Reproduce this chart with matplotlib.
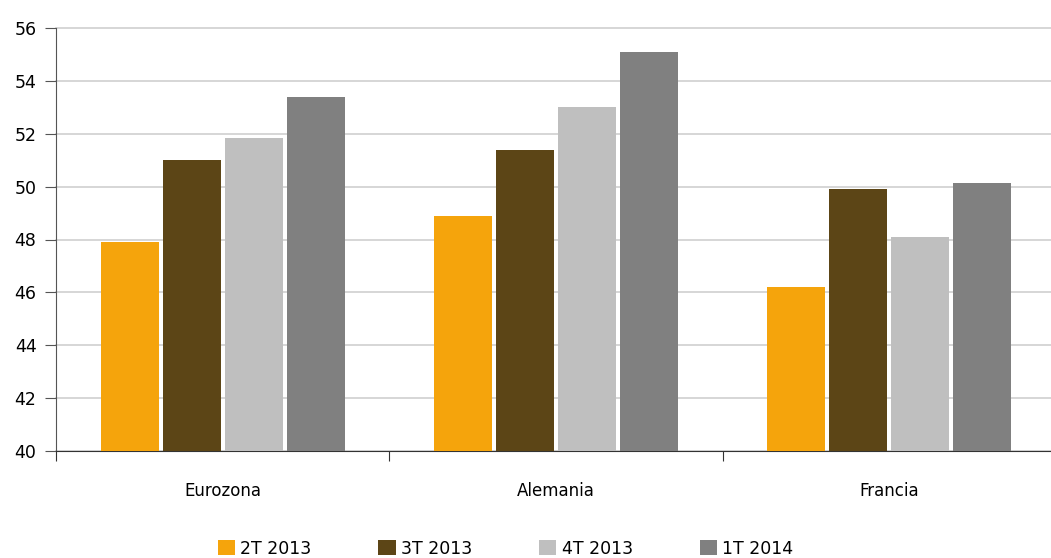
import numpy as np
import matplotlib.pyplot as plt

categories = ['Eurozona', 'Alemania', 'Francia']
series_names = ['2T 2013', '3T 2013', '4T 2013', '1T 2014']
values_2t2013 = [47.9, 48.9, 46.2]
values_3t2013 = [51.0, 51.4, 49.9]
values_4t2013 = [51.85, 53.0, 48.1]
values_1t2014 = [53.4, 55.1, 50.15]
yticks = [40, 42, 44, 46, 48, 50, 52, 54, 56]

series = [values_2t2013, values_3t2013, values_4t2013, values_1t2014]
colors = ['#F5A40C', '#5C4516', '#BFBFBF', '#808080']

fig = plt.figure(figsize=(10.51, 5.58), dpi=100)
ax = fig.add_axes([56 / 1051, 1 - 451 / 558, 1000 / 1051, 423 / 558])

x = np.arange(len(categories))
step = 0.186
width = 0.174
for i, (vals, col, name) in enumerate(zip(series, colors, series_names)):
    ax.bar(x + (i - 1.5) * step, np.array(vals) - 40, bottom=40, width=width,
           color=col, label=name, zorder=3)

ax.set_xlim(-0.5, 2.5)
ax.set_ylim(40, 56)
ax.set_yticks(yticks)
ax.set_yticklabels([str(t) for t in yticks], fontsize=12.5)
ax.tick_params(axis='y', length=8, width=0.8, color='#555555', pad=6)
ax.grid(axis='y', color='#d0d0d0', linewidth=1.2, zorder=0)
for gl in ax.get_ygridlines():
    gl.set_clip_on(False)

ax.set_xticks([-0.5, 0.5, 1.5, 2.5])
ax.set_xticklabels([])
ax.tick_params(axis='x', length=7, width=0.8, color='#333333')
for xi, cat in zip(x, categories):
    ax.text(xi, 38.5, cat, ha='center', va='center', fontsize=12)

for s in ['top', 'right']:
    ax.spines[s].set_visible(False)
ax.spines['left'].set_color('#555555')
ax.spines['bottom'].set_color('#333333')

leg = fig.legend(loc='center', bbox_to_anchor=(0.481, 0.017), ncol=4, frameon=False,
                 fontsize=12.5, handlelength=1.0, handleheight=1.0,
                 handletextpad=0.3, columnspacing=3.85)

plt.savefig('out.png', dpi=100)
